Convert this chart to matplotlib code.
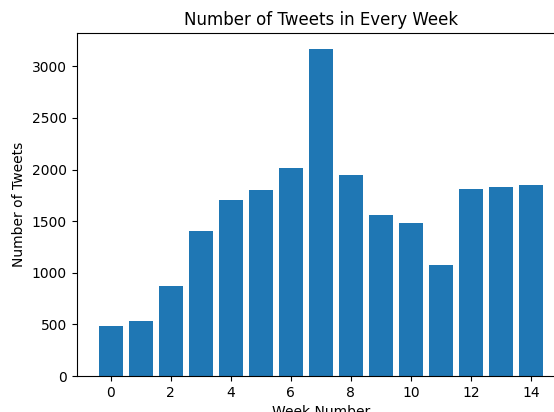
import matplotlib
matplotlib.use("Agg")
import matplotlib.pyplot as plt

weeks = list(range(15))
tweets = [485, 531, 874, 1405, 1709, 1799, 2017, 3165, 1945, 1557, 1482, 1071, 1816, 1835, 1854]

fig = plt.figure(figsize=(5.54, 4.12), dpi=100)
ax = fig.add_axes([76.5/554, 36/412, (565-76.5)/554, (376-33)/412])
ax.bar(weeks, tweets)
ax.set_title("Number of Tweets in Every Week")
ax.set_xlabel("Week Number")
ax.set_ylabel("Number of Tweets")
fig.savefig("out.png", dpi=100)
